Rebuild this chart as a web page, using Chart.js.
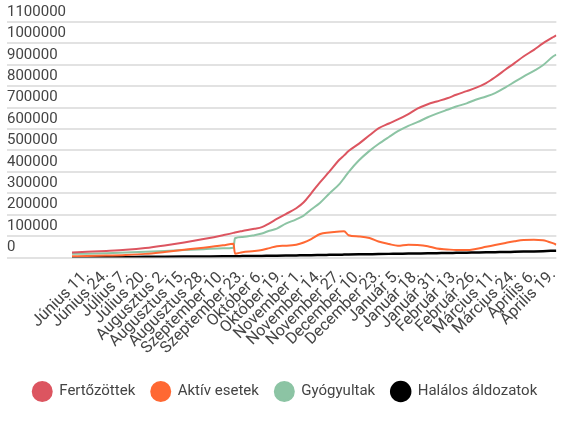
<!DOCTYPE html>
<html>
<head>
<meta charset="utf-8">
<script src="https://cdn.jsdelivr.net/npm/chart.js@4.4.1/dist/chart.umd.min.js"></script>
<style>
  html, body { margin: 0; padding: 0; background: #fff; }
  #wrap { width: 575px; height: 425px; }
</style>
</head>
<body>
<div id="wrap"><canvas id="covidChart"></canvas></div>
<script>
// Days counted from Június 11. (day 0)
const days = [-10, 0, 13, 26, 39, 52, 65, 78, 91, 98, 99, 104, 112, 117, 122, 127, 133, 140, 145, 150,
  156, 162, 169, 172, 175, 182, 189, 195, 202, 208, 215, 221, 228, 234, 241, 247, 254, 260, 267, 273,
  280, 286, 292, 299, 305, 312, 314];

const tickDays = [0, 13, 26, 39, 52, 65, 78, 91, 104, 117, 130, 143, 156, 169, 182, 195, 208, 221, 234,
  247, 260, 273, 286, 299, 312];
const tickLabels = ['Június 11.', 'Június 24.', 'Július 7.', 'Július 20.', 'Augusztus 2.', 'Augusztus 15.',
  'Augusztus 28.', 'Szeptember 10.', 'Szeptember 23.', 'Október 6.', 'Október 19.', 'November 1.',
  'November 14.', 'November 27.', 'December 10.', 'December 23.', 'Január 5.', 'Január 18.', 'Január 31.',
  'Február 13.', 'Február 26.', 'Március 11.', 'Március 24.', 'Április 6.', 'Április 19.'];

const infected = [24000, 27000, 31000, 36000, 44000, 56000, 70000, 86000, 104000, 115000, 117000, 124000,
  134000, 142000, 160000, 180000, 203000, 230000, 258000, 300000, 352000, 400000, 458000, 477000, 497000,
  532000, 571000, 603000, 626000, 645000, 670000, 695000, 716000, 729000, 744000, 760000, 777000, 792000,
  815000, 842000, 878000, 908000, 939000, 970000, 1000000, 1030000, 1038000];

const active = [6000, 7000, 9000, 12000, 17000, 26000, 36000, 46000, 57000, 64000, 18000, 25000, 30000,
  35000, 44000, 53000, 55000, 60000, 70000, 86000, 110000, 117000, 122000, 123000, 104000, 98000, 91000,
  75000, 63000, 55000, 60000, 59000, 53000, 42000, 38000, 35000, 35000, 40000, 50000, 58000, 68000, 76000,
  82000, 83000, 81000, 66000, 60000];

const recovered = [17000, 18000, 20000, 23000, 27000, 31000, 35000, 39000, 43000, 46000, 90000, 96000,
  104000, 112000, 125000, 135000, 158000, 178000, 196000, 224000, 256000, 298000, 344000, 371000, 399000,
  454000, 498000, 530000, 563000, 590000, 615000, 632000, 655000, 672000, 690000, 705000, 720000, 737000,
  752000, 768000, 795000, 820000, 845000, 872000, 898000, 940000, 948000];

const deaths = [1500, 1800, 2200, 2600, 3000, 3500, 4200, 5000, 5800, 6200, 6200, 6600, 7200, 7600, 8100,
  8600, 9200, 9900, 10400, 11000, 11700, 12400, 13200, 13600, 14000, 14800, 15600, 16300, 17000, 17600,
  18400, 19000, 19700, 20400, 21100, 21800, 22600, 23300, 24100, 24900, 25800, 26700, 27600, 28600, 29800,
  31500, 32000];

const seriesNames = ['Fertőzöttek', 'Aktív esetek', 'Gyógyultak', 'Halálos áldozatok'];
const seriesColors = ['#dc5560', '#ff6833', '#8cc4a4', '#000000'];

Chart.defaults.font.family = 'Roboto';
Chart.defaults.color = '#444';

function toPoints(values) {
  return days.map((d, i) => ({ x: d, y: values[i] }));
}

const allSeries = [infected, active, recovered, deaths];

const datasets = allSeries.map((values, i) => ({
  label: seriesNames[i],
  data: toPoints(values),
  borderColor: seriesColors[i],
  backgroundColor: seriesColors[i],
  borderWidth: i === 3 ? 2.5 : 2,
  pointRadius: 0,
  cubicInterpolationMode: 'monotone',
  fill: false
}));

const ctx = document.getElementById('covidChart').getContext('2d');
new Chart(ctx, {
  type: 'line',
  data: { datasets: datasets },
  options: {
    responsive: true,
    maintainAspectRatio: false,
    animation: false,
    layout: {
      padding: { left: 7, right: 12, top: 22, bottom: 14 }
    },
    plugins: {
      tooltip: { enabled: false },
      legend: {
        position: 'bottom',
        labels: {
          boxWidth: 19,
          boxHeight: 19,
          useBorderRadius: true,
          borderRadius: 9.5,
          padding: 16,
          color: '#444',
          font: { size: 15 }
        }
      }
    },
    scales: {
      x: {
        type: 'linear',
        min: -53.5,
        max: 314,
        grid: { display: false, drawTicks: false },
        border: { display: false },
        afterBuildTicks: (axis) => {
          axis.ticks = tickDays.map(v => ({ value: v }));
        },
        ticks: {
          autoSkip: false,
          minRotation: 45,
          maxRotation: 45,
          padding: 8,
          font: { size: 16 },
          color: '#444',
          callback: (value) => {
            const idx = tickDays.indexOf(value);
            return idx >= 0 ? tickLabels[idx] : '';
          }
        }
      },
      y: {
        min: 0,
        max: 1100000,
        grid: { color: '#e2e2e2', lineWidth: 2, drawTicks: false },
        border: { display: false },
        ticks: {
          stepSize: 100000,
          autoSkip: false,
          mirror: true,
          padding: 0,
          labelOffset: -10,
          font: { size: 15 },
          color: '#444',
          callback: (value) => String(value)
        }
      }
    }
  }
});
</script>
</body>
</html>
